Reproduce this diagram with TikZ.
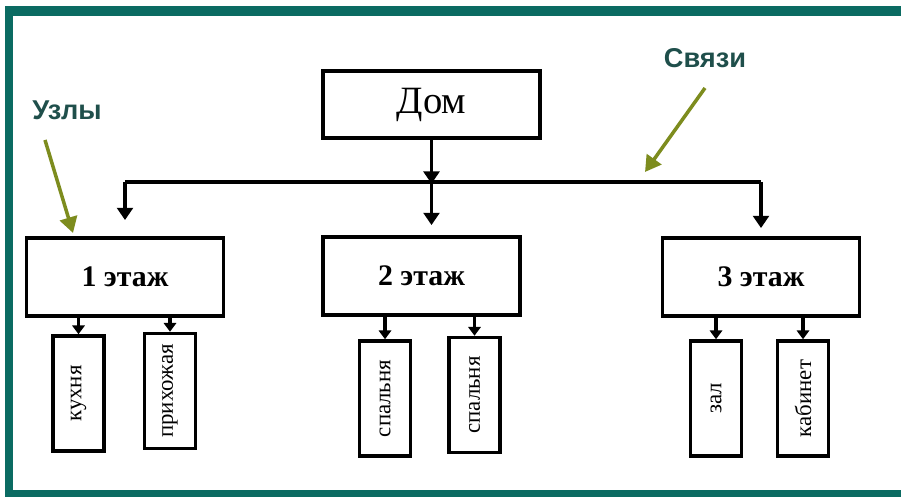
\documentclass[tikz,border=0pt]{standalone}
\usepackage{fontspec}
\usepackage{graphicx}
\setmainfont{Liberation Serif}
\newfontfamily\sansetiq{Liberation Sans}
\usetikzlibrary{arrows.meta}
\definecolor{cadre}{HTML}{0B6B62}
\definecolor{fleverte}{HTML}{7D8C1E}
\definecolor{texteetiq}{HTML}{1F4F4B}
\begin{document}
\begin{tikzpicture}[xscale=1,yscale=1]
		% Styles
		\tikzstyle{fleche}=[-{Triangle[width=9pt,length=7pt]},line width=2.2pt]
		\tikzstyle{petitefleche}=[-{Triangle[width=7pt,length=5pt]},line width=1.8pt]
		\tikzstyle{racine}=[draw,line width=2.2pt,minimum width=4.34cm,minimum height=1.34cm,font=\fontsize{22}{24}\selectfont]
		\tikzstyle{noeud}=[draw,line width=2.2pt,minimum width=3.94cm,minimum height=1.56cm,font=\fontsize{17}{19}\selectfont\bfseries]
		\tikzstyle{feuille}=[draw,line width=2pt,minimum width=1.02cm,minimum height=2.3cm,inner sep=0pt,font=\fontsize{13}{15}\selectfont]
		\tikzstyle{commentaire}=[text=texteetiq,font=\sansetiq\fontsize{15.5}{17}\selectfont\bfseries]
		\tikzstyle{indication}=[-{Triangle[width=10pt,length=9pt]},line width=2pt,fleverte]
		% Dimensions (1 pixel)
		\def\px{0.02}
		\useasboundingbox (0,0) rectangle ({901*\px},{-497*\px});
		% Cadre
		\fill[cadre] ({5*\px},{-6*\px}) rectangle ({901*\px},{-16*\px});
		\fill[cadre] ({5*\px},{-6*\px}) rectangle ({13*\px},{-497*\px});
		\fill[cadre] ({5*\px},{-490*\px}) rectangle ({901*\px},{-497*\px});
		% Noeuds
		\node[racine] (dom) at ({431.5*\px},{-104.5*\px}) {Дом};
		\node[noeud] (etage1) at ({125*\px},{-277*\px}) {1 этаж};
		\node[noeud] (etage2) at ({421.5*\px},{-276*\px}) {2 этаж};
		\node[noeud] (etage3) at ({761*\px},{-277*\px}) {3 этаж};
		%
		\node[feuille] (kuhnya) at ({78.5*\px},{-393.5*\px}) {\rotatebox{90}{кухня}};
		\node[feuille] (prihozh) at ({170*\px},{-391*\px}) {\rotatebox{90}{прихожая}};
		\node[feuille] (spalnyaA) at ({385*\px},{-398.5*\px}) {\rotatebox{90}{спальня}};
		\node[feuille] (spalnyaB) at ({474.5*\px},{-395*\px}) {\rotatebox{90}{спальня}};
		\node[feuille] (zal) at ({716*\px},{-398.5*\px}) {\rotatebox{90}{зал}};
		\node[feuille] (kabinet) at ({803*\px},{-398.5*\px}) {\rotatebox{90}{кабинет}};
		%
		\node[commentaire] (uzly) at ({67*\px},{-110*\px}) {Узлы};
		\node[commentaire] (svyazi) at ({705*\px},{-58*\px}) {Связи};
		\coordinate (bus) at ({431.5*\px},{-182*\px});
		\coordinate (departA) at ({45*\px},{-140*\px});
		\coordinate (pointeA) at ({73*\px},{-233*\px});
		\coordinate (departB) at ({705*\px},{-88*\px});
		\coordinate (pointeB) at ({645*\px},{-172*\px});
		% Arcs
		\draw[fleche,shorten >=-1pt] (dom.south)--(dom.south |- bus);
		\draw[line width=2.2pt] (etage1 |- bus)--(etage3 |- bus);
		\draw[fleche,shorten >=0.32cm] (etage1 |- bus)--(etage1.north);
		\draw[fleche,shorten >=0.2cm] (dom |- bus)--(dom |- etage2.north);
		\draw[fleche,shorten >=0.16cm] (etage3 |- bus)--(etage3.north);
		%
		\draw[petitefleche] (kuhnya.north |- etage1.south)--(kuhnya.north);
		\draw[petitefleche] (prihozh.north |- etage1.south)--(prihozh.north);
		\draw[petitefleche] (spalnyaA.north |- etage2.south)--(spalnyaA.north);
		\draw[petitefleche] (spalnyaB.north |- etage2.south)--(spalnyaB.north);
		\draw[petitefleche] (zal.north |- etage3.south)--(zal.north);
		\draw[petitefleche] (kabinet.north |- etage3.south)--(kabinet.north);
		%
		\draw[indication] (departA)--(pointeA);
		\draw[indication] (departB)--(pointeB);
	\end{tikzpicture}
\end{document}
